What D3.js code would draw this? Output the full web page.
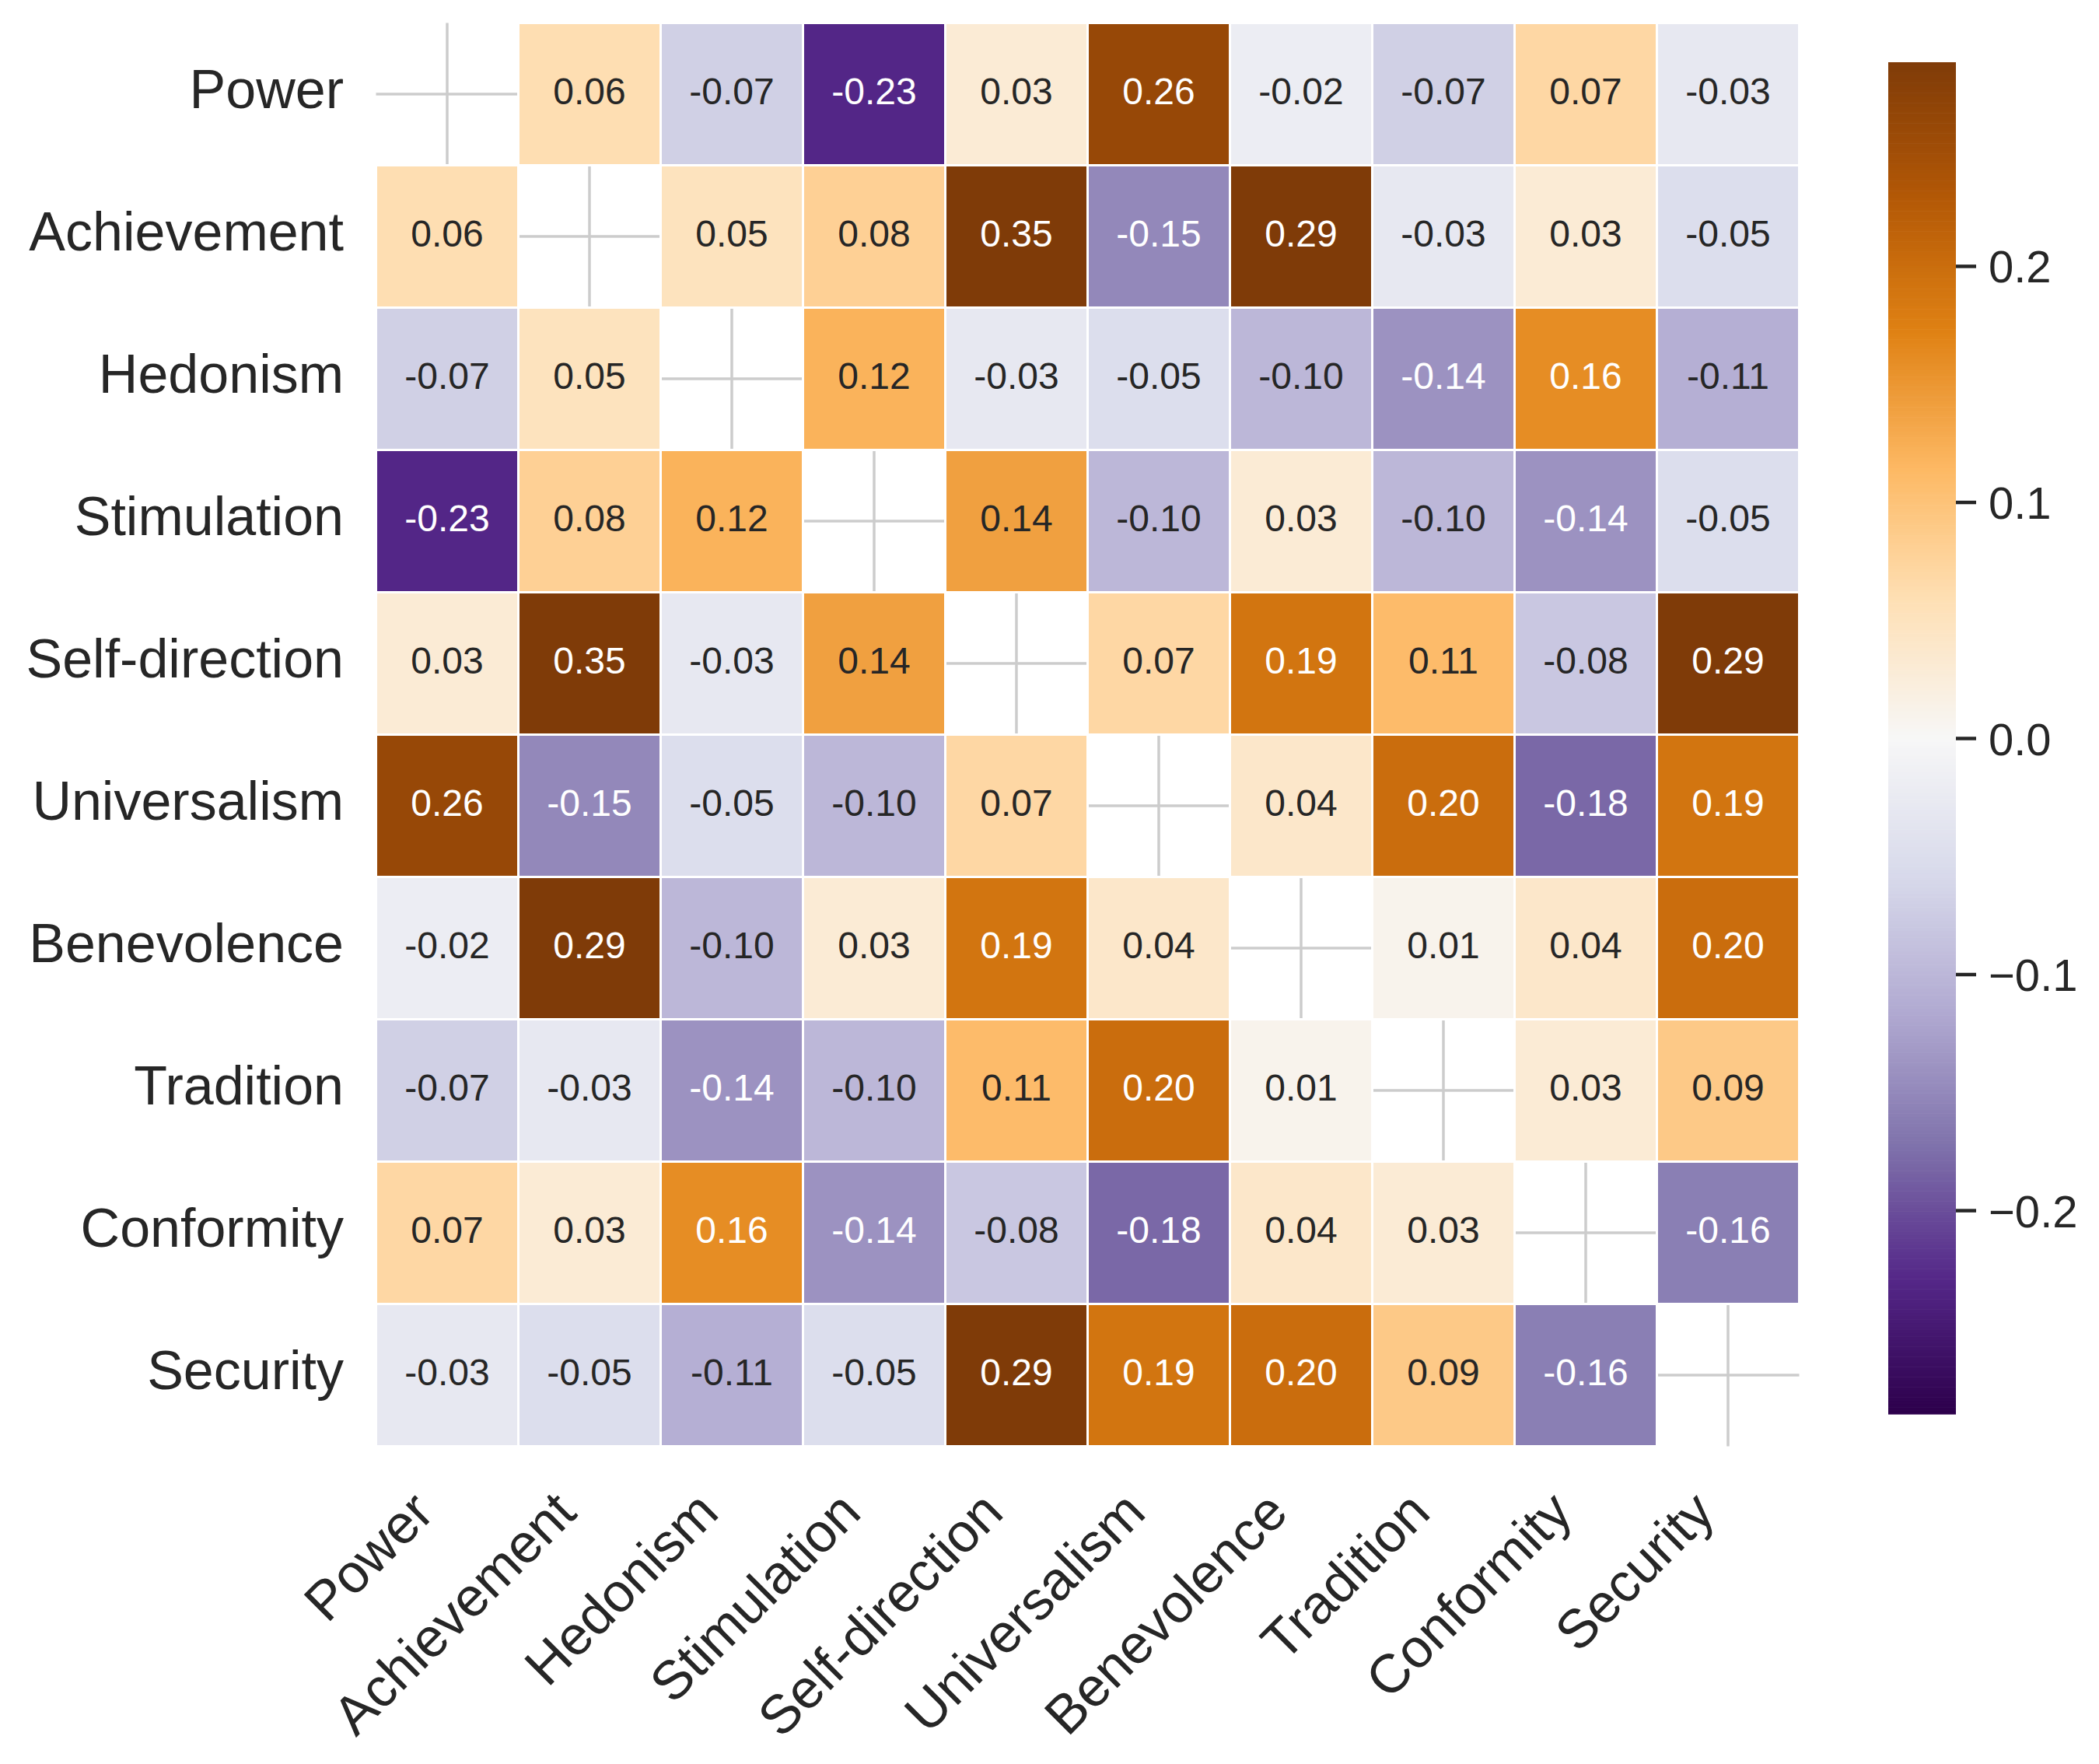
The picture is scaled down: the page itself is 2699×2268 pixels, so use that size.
<!DOCTYPE html>
<html>
<head>
<meta charset="utf-8">
<script src="https://cdn.jsdelivr.net/npm/d3@7"></script>
<style>
  body { margin: 0; background: #fff; }
  text { font-family: "Liberation Sans", Arial, sans-serif; }
</style>
</head>
<body>
<div id="chart"></div>
<script>
// data
const values_names = ["Power", "Achievement", "Hedonism", "Stimulation", "Self-direction",
  "Universalism", "Benevolence", "Tradition", "Conformity", "Security"];

const corr = [
  [null, 0.06, -0.07, -0.23, 0.03, 0.26, -0.02, -0.07, 0.07, -0.03],
  [0.06, null, 0.05, 0.08, 0.35, -0.15, 0.29, -0.03, 0.03, -0.05],
  [-0.07, 0.05, null, 0.12, -0.03, -0.05, -0.10, -0.14, 0.16, -0.11],
  [-0.23, 0.08, 0.12, null, 0.14, -0.10, 0.03, -0.10, -0.14, -0.05],
  [0.03, 0.35, -0.03, 0.14, null, 0.07, 0.19, 0.11, -0.08, 0.29],
  [0.26, -0.15, -0.05, -0.10, 0.07, null, 0.04, 0.20, -0.18, 0.19],
  [-0.02, 0.29, -0.10, 0.03, 0.19, 0.04, null, 0.01, 0.04, 0.20],
  [-0.07, -0.03, -0.14, -0.10, 0.11, 0.20, 0.01, null, 0.03, 0.09],
  [0.07, 0.03, 0.16, -0.14, -0.08, -0.18, 0.04, 0.03, null, -0.16],
  [-0.03, -0.05, -0.11, -0.05, 0.29, 0.19, 0.20, 0.09, -0.16, null]
];

const cbar_ticks = [-0.2, -0.1, 0.0, 0.1, 0.2];
const vmax = 0.2863;

// PuOr colour stops (purple -> brown, reversed map)
const puor_r = ["#2d004b", "#542788", "#8073ac", "#b2abd2", "#d8daeb", "#f7f7f7",
  "#fee0b6", "#fdb863", "#e08214", "#b35806", "#7f3b08"];

let dimensions = {
  width: 2699,
  height: 2268,
  left: 483.5,
  top: 29.5,
  size: 1830,
};

const svg = d3.select("#chart").append("svg")
  .attr("width", dimensions.width)
  .attr("height", dimensions.height);

const xScale = d3.scaleBand()
  .domain(values_names)
  .range([dimensions.left, dimensions.left + dimensions.size]);
const yScale = d3.scaleBand()
  .domain(values_names)
  .range([dimensions.top, dimensions.top + dimensions.size]);
const bw = xScale.bandwidth();

const color = d3.scaleLinear()
  .domain(d3.range(11).map(i => -vmax + i * (2 * vmax) / 10))
  .range(puor_r)
  .clamp(true);

// grid lines (show through the masked diagonal)
const grid = svg.append("g");
grid.selectAll(".vgrid")
  .data(values_names)
  .join("line")
  .attr("x1", d => xScale(d) + bw / 2)
  .attr("x2", d => xScale(d) + bw / 2)
  .attr("y1", dimensions.top)
  .attr("y2", dimensions.top + dimensions.size)
  .attr("stroke", "#cccccc")
  .attr("stroke-width", 3.5);
grid.selectAll(".hgrid")
  .data(values_names)
  .join("line")
  .attr("y1", d => yScale(d) + bw / 2)
  .attr("y2", d => yScale(d) + bw / 2)
  .attr("x1", dimensions.left)
  .attr("x2", dimensions.left + dimensions.size)
  .attr("stroke", "#cccccc")
  .attr("stroke-width", 3.5);

// cells
const cells = [];
corr.forEach((row, i) => row.forEach((v, j) => {
  if (v !== null) cells.push({ row: values_names[i], col: values_names[j], v: v });
}));

function luminance(c) {
  const rgb = d3.rgb(c);
  const lin = [rgb.r, rgb.g, rgb.b].map(u => {
    u = u / 255;
    return u <= 0.03928 ? u / 12.92 : Math.pow((u + 0.055) / 1.055, 2.4);
  });
  return 0.2126 * lin[0] + 0.7152 * lin[1] + 0.0722 * lin[2];
}

const cellG = svg.append("g");
cellG.selectAll("rect")
  .data(cells)
  .join("rect")
  .attr("x", d => xScale(d.col))
  .attr("y", d => yScale(d.row))
  .attr("width", bw)
  .attr("height", bw)
  .attr("fill", d => color(d.v))
  .attr("stroke", "#ffffff")
  .attr("stroke-width", 3);

cellG.selectAll("text")
  .data(cells)
  .join("text")
  .attr("x", d => xScale(d.col) + bw / 2)
  .attr("y", d => yScale(d.row) + bw / 2 + 13)
  .attr("text-anchor", "middle")
  .style("font-size", "48px")
  .attr("fill", d => luminance(color(d.v)) > 0.408 ? "#262626" : "#ffffff")
  .text(d => d.v.toFixed(2));

// y labels
svg.append("g").selectAll("text")
  .data(values_names)
  .join("text")
  .attr("x", dimensions.left - 41.5)
  .attr("y", d => yScale(d) + bw / 2 + 17.5)
  .attr("text-anchor", "end")
  .attr("fill", "#262626")
  .style("font-size", "70px")
  .text(d => d);

// x labels, rotated
svg.append("g").selectAll("text")
  .data(values_names)
  .join("text")
  .attr("transform", d => `translate(${xScale(d) + bw / 2 - 14}, ${dimensions.top + dimensions.size + 88.5}) rotate(-45)`)
  .attr("text-anchor", "end")
  .attr("fill", "#262626")
  .style("font-size", "70px")
  .text(d => d);

// colorbar
const cb = { x: 2428, w: 87, top: 80, bottom: 1818 };
const cbScale = d3.scaleLinear()
  .domain([-vmax, vmax])
  .range([cb.bottom, cb.top]);

const steps = d3.range(0, 400);
const stepH = (cb.bottom - cb.top) / steps.length;
svg.append("g").selectAll("rect")
  .data(steps)
  .join("rect")
  .attr("x", cb.x)
  .attr("y", d => cb.bottom - (d + 1) * stepH)
  .attr("width", cb.w)
  .attr("height", stepH + 0.6)
  .attr("fill", d => color(cbScale.invert(cb.bottom - (d + 0.5) * stepH)));

const cbAxis = d3.axisRight(cbScale)
  .tickValues(cbar_ticks)
  .tickSize(26)
  .tickPadding(16)
  .tickFormat(d3.format(".1f"));

const cbAxisGroup = svg.append("g")
  .attr("transform", `translate(${cb.x + cb.w}, 0)`)
  .call(cbAxis);
cbAxisGroup.select(".domain").remove();
cbAxisGroup.selectAll(".tick line")
  .attr("stroke", "#262626")
  .attr("stroke-width", 4.5);
cbAxisGroup.selectAll(".tick text")
  .attr("fill", "#262626")
  .attr("dy", null)
  .attr("y", 21)
  .style("font-size", "58px")
  .style("font-family", "'Liberation Sans', Arial, sans-serif");
</script>
</body>
</html>
